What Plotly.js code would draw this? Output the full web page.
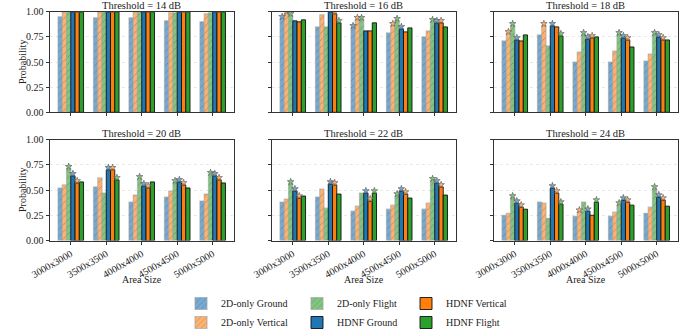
<!DOCTYPE html>
<html><head><meta charset="utf-8">
<script src="https://cdn.plot.ly/plotly-3.0.1.min.js"></script>
<style>html,body{margin:0;padding:0;background:#fff}#chart{width:699px;height:329px}</style>
</head><body><div id="chart"></div>
<script>
// ---------- data ----------
const categories = ['3000x3000', '3500x3500', '4000x4000', '4500x4500', '5000x5000'];
const panelTitles = ['Threshold = 14 dB', 'Threshold = 16 dB', 'Threshold = 18 dB',
                     'Threshold = 20 dB', 'Threshold = 22 dB', 'Threshold = 24 dB'];
const seriesNames = ['2D-only Ground', '2D-only Vertical', '2D-only Flight',
                     'HDNF Ground', 'HDNF Vertical', 'HDNF Flight'];
const xAxisTitle = 'Area Size';
const yAxisTitle = 'Probability';
const yTickVals = [0, 0.25, 0.5, 0.75, 1.0];
const yTickText = ['0.00', '0.25', '0.50', '0.75', '1.00'];

// rows: thresholds 14,16,18,20,22,24 ; columns: area sizes
const twoDGround   = [[0.95, 0.94, 0.94, 0.91, 0.90],
                      [0.93, 0.85, 0.84, 0.79, 0.75],
                      [0.71, 0.77, 0.50, 0.50, 0.51],
                      [0.52, 0.53, 0.38, 0.43, 0.39],
                      [0.38, 0.43, 0.29, 0.31, 0.31],
                      [0.25, 0.38, 0.24, 0.24, 0.27]];
const twoDVertical = [[1.00, 1.00, 1.00, 0.99, 0.98],
                      [0.98, 0.97, 0.92, 0.86, 0.81],
                      [0.78, 0.86, 0.60, 0.61, 0.58],
                      [0.55, 0.62, 0.45, 0.49, 0.46],
                      [0.41, 0.51, 0.34, 0.35, 0.37],
                      [0.27, 0.37, 0.28, 0.28, 0.33]];
const twoDFlight   = [[1.00, 1.00, 1.00, 0.99, 0.99],
                      [0.96, 0.85, 0.92, 0.91, 0.90],
                      [0.86, 0.66, 0.77, 0.77, 0.77],
                      [0.71, 0.47, 0.61, 0.57, 0.65],
                      [0.56, 0.32, 0.47, 0.44, 0.59],
                      [0.42, 0.22, 0.38, 0.35, 0.51]];
const hdnfGround   = [[1.00, 1.00, 1.00, 1.00, 1.00],
                      [0.91, 1.00, 0.81, 0.83, 0.89],
                      [0.72, 0.86, 0.73, 0.74, 0.75],
                      [0.64, 0.70, 0.54, 0.58, 0.64],
                      [0.49, 0.56, 0.47, 0.49, 0.57],
                      [0.37, 0.52, 0.29, 0.40, 0.43]];
const hdnfVertical = [[1.00, 1.00, 1.00, 1.00, 1.00],
                      [0.90, 0.98, 0.81, 0.80, 0.89],
                      [0.71, 0.85, 0.74, 0.72, 0.72],
                      [0.57, 0.70, 0.52, 0.55, 0.60],
                      [0.42, 0.55, 0.39, 0.46, 0.53],
                      [0.33, 0.47, 0.25, 0.38, 0.40]];
const hdnfFlight   = [[1.00, 1.00, 1.00, 1.00, 1.00],
                      [0.92, 0.89, 0.89, 0.84, 0.85],
                      [0.77, 0.76, 0.75, 0.65, 0.72],
                      [0.58, 0.60, 0.58, 0.52, 0.57],
                      [0.44, 0.46, 0.47, 0.42, 0.45],
                      [0.31, 0.36, 0.38, 0.35, 0.34]];
// which series (0..5) carry a star marker in each group, per threshold
const starMarks = [
  [[3,4,5],[3,4,5],[3,4,5],[3,4,5],[3,4,5]],
  [[0,1,2],[3,4,5],[0,1,2],[1,2,3],[2,3,4]],
  [[1,2,3],[1,3,5],[2,3,4],[2,3,4],[2,3,4]],
  [[2,3,4],[3,4,5],[2,3,4],[2,3,4],[2,3,4]],
  [[2,3,4],[3,4],[3,4,5],[2,3,4],[2,3,4]],
  [[2,3,4],[3,4,5],[1,3,5],[2,3,4],[2,3,4]]
];

// ---------- styling ----------
const seriesData = [twoDGround, twoDVertical, twoDFlight, hdnfGround, hdnfVertical, hdnfFlight];
const solidColors = ['#1f77b4', '#ff7f0e', '#2ca02c'];
const lightColors = ['#76aad2', '#ffb26e', '#80c680'];
const hatched = [true, true, true, false, false, false];
const legendOf = ['legend', 'legend', 'legend2', 'legend2', 'legend3', 'legend3'];
const FONT = '"Liberation Serif", "DejaVu Serif", serif';
const TXT = '#222';
const W = 699, H = 329;
const colX = [[49.5, 234], [271.5, 456], [493.5, 678]];
const rowY = [[11.8, 112.3], [139.5, 240.5]];
const BARGAP = 0.28, NSER = 6;
const barW = (1 - BARGAP) / NSER;

const traces = [];
const layout = {
  width: W, height: H,
  margin: {l: 0, r: 0, t: 0, b: 0, autoexpand: false},
  paper_bgcolor: '#fff', plot_bgcolor: '#fff',
  font: {family: FONT, size: 10, color: TXT},
  barmode: 'group', bargap: BARGAP, bargroupgap: 0,
  showlegend: true,
  annotations: []
};
const legendBase = {orientation: 'v', yanchor: 'top', xanchor: 'left', y: 1 - 289 / H,
  bgcolor: 'rgba(0,0,0,0)', font: {family: FONT, size: 10, color: TXT},
  tracegroupgap: 0, itemwidth: 30};
layout.legend  = Object.assign({}, legendBase, {x: 181 / W});
layout.legend2 = Object.assign({}, legendBase, {x: 297 / W});
layout.legend3 = Object.assign({}, legendBase, {x: 406 / W});

for (let p = 0; p < 6; p++) {
  const r = Math.floor(p / 3), c = p % 3;
  const sfx = p === 0 ? '' : String(p + 1);
  const xa = 'x' + sfx, ya = 'y' + sfx;
  const idx = categories.map((_, i) => i);

  for (let s = 0; s < NSER; s++) {
    const k = s % 3;
    const marker = hatched[s]
      ? {color: lightColors[k], line: {color: 'rgba(160,160,160,0.6)', width: 1.2},
         pattern: {shape: '/', bgcolor: lightColors[k], fgcolor: '#555', fgopacity: 0.5,
                   size: 5, solidity: 0.14, fillmode: 'replace'}}
      : {color: solidColors[k], line: {color: '#111', width: 0.9}};
    traces.push({
      type: 'bar', x: idx, y: seriesData[s][p], xaxis: xa, yaxis: ya,
      name: seriesNames[s], legend: legendOf[s], showlegend: p === 0,
      marker: marker, hoverinfo: 'y'
    });
  }
  // star markers on top of selected bars
  const sx = [], sy = [], sc = [];
  starMarks[p].forEach((list, g) => {
    list.forEach(s => {
      sx.push(g - (1 - BARGAP) / 2 + barW * (s + 0.5));
      sy.push(seriesData[s][p][g] + 0.022);
      sc.push(lightColors[s % 3]);
    });
  });
  traces.push({type: 'scatter', mode: 'markers', x: sx, y: sy, xaxis: xa, yaxis: ya,
    showlegend: false, hoverinfo: 'skip',
    marker: {symbol: 'star', size: 5, color: sc, line: {color: '#555', width: 0.6}}});

  layout['xaxis' + sfx] = {
    domain: [colX[c][0] / W, colX[c][1] / W], anchor: ya,
    range: [-0.6, 4.6], tickmode: 'array', tickvals: idx, ticktext: categories,
    showticklabels: r === 1, tickangle: -30, ticks: 'outside', ticklen: 3, tickcolor: '#333',
    tickfont: {family: FONT, size: 10, color: TXT},
    showline: true, mirror: true, linecolor: '#333', linewidth: 1,
    showgrid: false, zeroline: false
  };
  layout['yaxis' + sfx] = {
    domain: [1 - rowY[r][1] / H, 1 - rowY[r][0] / H], anchor: xa,
    range: [0, 1], tickmode: 'array', tickvals: yTickVals, ticktext: yTickText,
    showticklabels: c === 0, ticks: 'outside', ticklen: 3, tickcolor: '#333',
    tickfont: {family: FONT, size: 10, color: TXT},
    showline: true, mirror: true, linecolor: '#333', linewidth: 1,
    showgrid: true, gridcolor: '#e4e4e4', griddash: 'dot', gridwidth: 0.8, zeroline: false
  };
  layout.annotations.push({
    text: panelTitles[p], xref: 'paper', yref: 'paper',
    x: (colX[c][0] + colX[c][1]) / 2 / W, y: 1 - rowY[r][0] / H,
    xanchor: 'center', yanchor: 'bottom', yshift: -1.5, showarrow: false,
    font: {family: FONT, size: 10.5, color: TXT}
  });
  if (c === 0) {
    layout.annotations.push({
      text: yAxisTitle, xref: 'paper', yref: 'paper', textangle: -90,
      x: 22 / W, y: 1 - (rowY[r][0] + rowY[r][1]) / 2 / H,
      xanchor: 'center', yanchor: 'middle', showarrow: false,
      font: {family: FONT, size: 10, color: TXT}
    });
  }
  if (r === 1) {
    layout.annotations.push({
      text: xAxisTitle, xref: 'paper', yref: 'paper',
      x: (colX[c][0] + colX[c][1]) / 2 / W, y: 1 - 279.5 / H,
      xanchor: 'center', yanchor: 'middle', showarrow: false,
      font: {family: FONT, size: 10, color: TXT}
    });
  }
}

Plotly.newPlot('chart', traces, layout, {displayModeBar: false, staticPlot: true});
</script>
</body></html>
